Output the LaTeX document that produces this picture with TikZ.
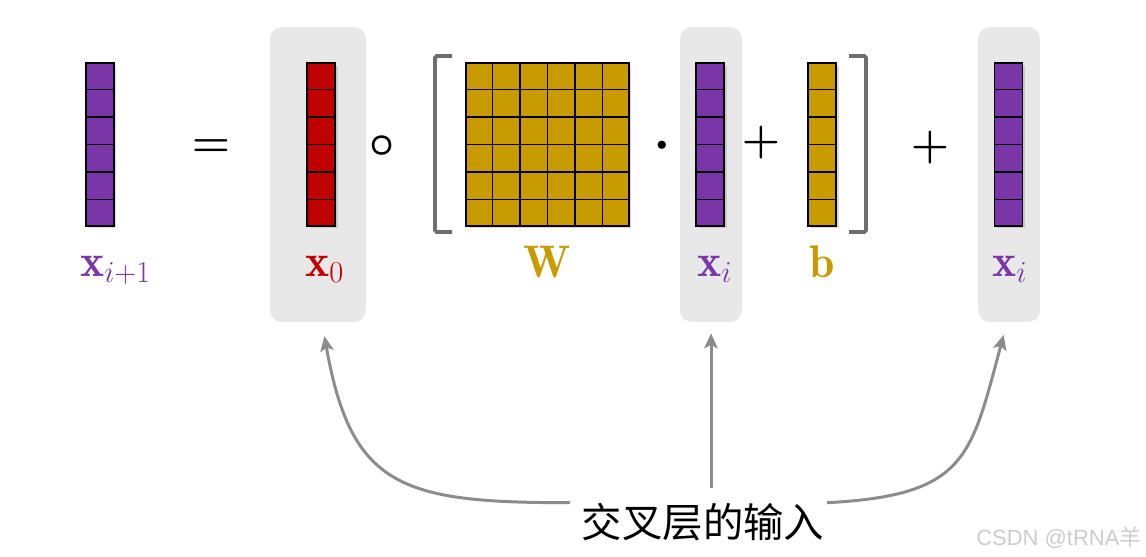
\documentclass[tikz,border=0pt]{standalone}
\usepackage{fontspec}
\newfontfamily\cjk{Noto Sans CJK SC}
\newfontfamily\markfont{Liberation Sans}
\usetikzlibrary{calc,shadows,arrows.meta}

\definecolor{vpurple}{HTML}{7A35A8}
\definecolor{vred}{HTML}{C00000}
\definecolor{vgold}{HTML}{C89B00}
\definecolor{boxgray}{HTML}{E8E8E8}
\definecolor{brackgray}{HTML}{6E6E6E}
\definecolor{arrowgray}{HTML}{8C8C8C}
\definecolor{markgray}{HTML}{CCCCCC}

% horizontal cell lines of a vector / matrix node
\newcommand{\rowlines}[1]{%
  \foreach \k in {1,...,5}
    \draw[cellline] ($(#1.north west)!\k/6!(#1.south west)$) -- ($(#1.north east)!\k/6!(#1.south east)$);%
}
% vertical cell lines of the matrix node
\newcommand{\collines}[1]{%
  \foreach \k in {1,...,5}
    \draw[cellline] ($(#1.north west)!\k/6!(#1.north east)$) -- ($(#1.south west)!\k/6!(#1.south east)$);%
}

\begin{document}
\begin{tikzpicture}[x=0.02cm, y=-0.02cm, >={Stealth[length=0.3cm, width=0.27cm, inset=0.07cm]},
    vec/.style={draw, line width=1pt, inner sep=0pt, minimum width=0.56cm, minimum height=3.26cm,
        drop shadow={shadow xshift=0.05cm, shadow yshift=-0.05cm, opacity=0.3}},
    cellline/.style={line width=0.9pt},
    inbox/.style={fill=boxgray, rounded corners=0.24cm, inner sep=0pt, minimum height=5.9cm},
    lab/.style={font=\fontsize{26}{30}\selectfont, anchor=base west, inner sep=0pt},
    op/.style={font=\boldmath\fontsize{25}{30}\selectfont, inner sep=0pt},
    brack/.style={draw=brackgray, line width=2.2pt, rounded corners=1pt},
    inarrow/.style={->, draw=arrowgray, line width=1.7pt}]

    \useasboundingbox (0,0) rectangle (1146,556);

    % Grey boxes round the inputs
    \node[inbox, minimum width=1.92cm] (box0) at (318,174.5) {};
    \node[inbox, minimum width=1.24cm] (boxi) at (711,174.5) {};
    \node[inbox, minimum width=1.24cm] (boxr) at (1009,174.5) {};

    % Vector x_{i+1}
    \node[vec, fill=vpurple] (xnext) at (100,144.5) {};
    \rowlines{xnext}
    \node[lab, text=vpurple] (lxnext) at (80,276) {$\mathbf{x}_{i+1}$};

    \node[op] (eq) at (211,148) {$=$};

    % Vector x_0
    \node[vec, fill=vred] (xzero) at (321,144.5) {};
    \rowlines{xzero}
    \node[lab, text=vred] (lxzero) at (305,276) {$\mathbf{x}_{0}$};

    \node[op] (hadam) at (382,146) {$\circ$};

    % Matrix W
    \node[vec, fill=vgold, minimum width=3.26cm] (wmat) at (547.5,144.5) {};
    \rowlines{wmat}
    \collines{wmat}
    \node[lab, text=vgold, anchor=base] (lwmat) at (547,277) {$\mathbf{W}$};

    \node[op, font=\fontsize{12}{14}\selectfont] (dotp) at (662,146) {$\bullet$};

    % Vector x_i
    \node[vec, fill=vpurple] (xi) at (710,144.5) {};
    \rowlines{xi}
    \node[lab, text=vpurple] (lxi) at (697,276) {$\mathbf{x}_{i}$};

    \node[op] (plusb) at (761,143) {$+$};

    % Vector b
    \node[vec, fill=vgold] (bias) at (822,144.5) {};
    \rowlines{bias}
    \node[lab, text=vgold] (lbias) at (809,277) {$\mathbf{b}$};

    % Brackets
    \draw[brack] (452,56) -- (435,56) -- (435,232) -- (452,232);
    \draw[brack] (849,56) -- (866,56) -- (866,232) -- (849,232);

    \node[op] (plusr) at (930,148) {$+$};

    % Vector x_i (residual)
    \node[vec, fill=vpurple] (xres) at (1008.5,144.5) {};
    \rowlines{xres}
    \node[lab, text=vpurple] (lxres) at (992,276) {$\mathbf{x}_{i}$};

    % Inputs of the cross layer
    \node[font=\cjk\fontsize{23}{26}\selectfont, inner sep=0pt] (inputs) at (703,522) {交叉层的输入};
    \draw[inarrow, shorten >=0.28cm] ([xshift=-0.23cm]inputs.north west)
        to[out=180, in=-80, looseness=1.4] ([xshift=0.08cm]box0.south);
    \draw[inarrow, shorten <=0.3cm, shorten >=0.22cm] (inputs.north -| boxi.south) -- (boxi.south);
    \draw[inarrow, shorten >=0.26cm] ([xshift=0.05cm]inputs.north east)
        to[out=3, in=-105, looseness=1.4] ([xshift=-0.04cm]boxr.south);

    \node[text=markgray, font=\markfont\fontsize{12.5}{14}\selectfont, anchor=base west, inner sep=0pt] (mark) at (976,545) {CSDN @tRNA{\cjk 羊}};

\end{tikzpicture}
\end{document}
